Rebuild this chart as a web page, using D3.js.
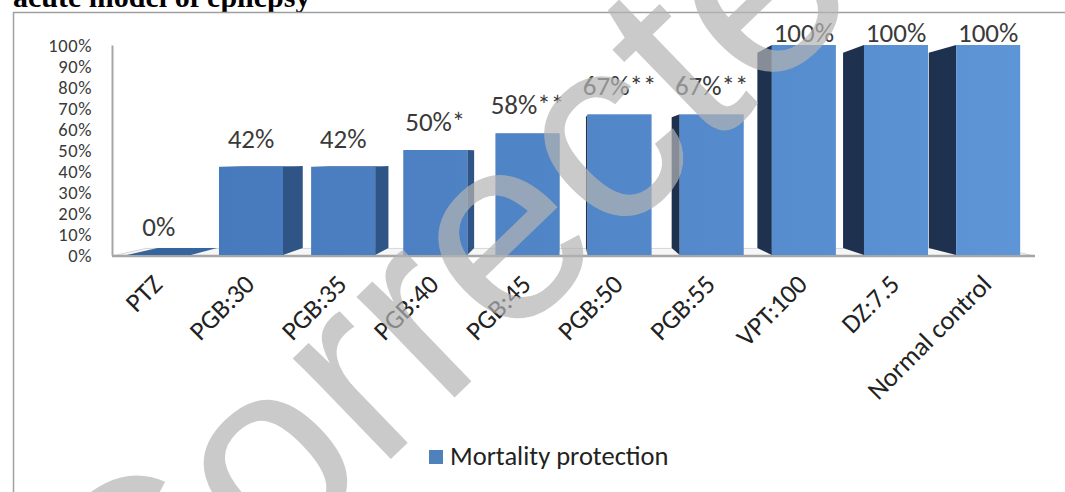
<!DOCTYPE html>
<html>
<head>
<meta charset="utf-8">
<script src="https://cdn.jsdelivr.net/npm/d3@7"></script>
<style>
  html, body { margin: 0; padding: 0; background: #fff; }
  svg { display: block; }
</style>
</head>
<body>
<svg id="chart" width="1065" height="492"></svg>
<script>
// ---- data ----
const categories = ["PTZ", "PGB:30", "PGB:35", "PGB:40", "PGB:45", "PGB:50", "PGB:55", "VPT:100", "DZ:7.5", "Normal control"];
const protection = [0, 42, 42, 50, 58, 67, 67, 100, 100, 100];   // % mortality protection
const significance = ["", "", "", "*", "**", "**", "**", "", "", ""];
const yTicks = [0, 10, 20, 30, 40, 50, 60, 70, 80, 90, 100];
const seriesName = "Mortality protection";
const titleText = "acute model of epilepsy";
const stampText = "Corrected";

// ---- setup ----
const svg = d3.select("#chart");
const uiFont = "Carlito, Calibri, Lato, sans-serif";

const x = d3.scaleBand().domain(categories).range([113, 1034]).paddingInner(0.305).paddingOuter(0.15);
const y = d3.scaleLinear().domain([0, 100]).range([255, 45]);
const pct = d => d + "%";

// simple one-point perspective for the 3-D columns
const vp = [565, 155];
const depth = 0.93;
const proj = (px, py, s) => [vp[0] + (px - vp[0]) * s, vp[1] + (py - vp[1]) * s];

const defs = svg.append("defs");
const grad = defs.append("linearGradient").attr("id", "frontFill")
  .attr("gradientUnits", "userSpaceOnUse").attr("x1", 200).attr("x2", 1020).attr("y1", 0).attr("y2", 0);
grad.append("stop").attr("offset", 0).attr("stop-color", "#4679bb");
grad.append("stop").attr("offset", 1).attr("stop-color", "#5d95d6");

// figure title (clipped by the top edge)
svg.append("text").attr("x", 13).attr("y", 7)
  .attr("font-family", "Liberation Serif, Times New Roman, serif")
  .attr("font-weight", "bold").attr("font-size", 30).attr("fill", "#000")
  .text(titleText);

// chart frame
svg.append("rect").attr("x", 13.5).attr("y", 12.5).attr("width", 1200).attr("height", 600)
  .attr("fill", "none").attr("stroke", "#a0a0a0").attr("stroke-width", 1.5);

// floor
const fy = y(0) + 1;
const floorPts = [[112, fy], [1035, fy], proj(1035, fy, 0.925), proj(112, fy, 0.925)];
svg.append("polygon").attr("points", floorPts.map(p => p.join(",")).join(" "))
  .attr("fill", "#f6f6f6").attr("stroke", "#d6d6d6").attr("stroke-width", 1);
svg.append("line").attr("x1", 112).attr("x2", 1035).attr("y1", fy).attr("y2", fy)
  .attr("stroke", "#a6a6a6").attr("stroke-width", 2.5);

// y axis
const yAxis = d3.axisLeft(y).tickValues(yTicks).tickFormat(pct).tickSize(0).tickPadding(20);
const ga = svg.append("g").attr("transform", "translate(112,0)").call(yAxis);
ga.select(".domain").attr("stroke", "#a6a6a6").attr("stroke-width", 2);
ga.selectAll(".tick text")
  .attr("font-family", uiFont).attr("font-size", 18.5).attr("letter-spacing", 0.6)
  .attr("fill", "#3a3a3a").attr("dy", "0.37em");

// columns
const rows = categories.map((c, i) => ({ c, v: protection[i], star: significance[i] }));
const bw = x.bandwidth();
const poly = pts => pts.map(p => p.join(",")).join(" ");
const bars = svg.append("g");
rows.forEach(d => {
  const x0 = x(d.c), x1 = x0 + bw, yt = y(d.v), yb = y(0);
  const g = bars.append("g");
  if (x1 < vp[0]) {
    g.append("polygon").attr("fill", "#2e5586")
      .attr("points", poly([[x1, yt], [x1, yb], proj(x1, yb, depth), proj(x1, yt, depth)]));
  }
  if (x0 > vp[0]) {
    g.append("polygon").attr("fill", "#1e3250")
      .attr("points", poly([[x0, yt], [x0, yb], proj(x0, yb, depth), proj(x0, yt, depth)]));
  }
  if (yt > vp[1]) {
    g.append("polygon").attr("fill", "#36649d")
      .attr("points", poly([[x0, yt], [x1, yt], proj(x1, yt, depth), proj(x0, yt, depth)]));
  }
  g.append("rect").attr("x", x0).attr("y", yt).attr("width", bw).attr("height", yb - yt)
    .attr("fill", "url(#frontFill)");
});

// value labels
svg.append("g").selectAll("text").data(rows).join("text")
  .attr("x", d => x(d.c) + bw / 2)
  .attr("y", d => Math.max(y(d.v) - 19, 42))
  .attr("text-anchor", "middle")
  .attr("font-family", uiFont).attr("font-size", 27).attr("fill", "#3a3a3a")
  .text(d => pct(d.v) + d.star);

// category labels
svg.append("g").selectAll("text").data(categories).join("text")
  .attr("transform", d => `translate(${x(d) + bw / 2 + 5},286) rotate(-45)`)
  .attr("text-anchor", "end")
  .attr("font-family", uiFont).attr("font-size", 26.5).attr("fill", "#222")
  .text(d => d);

// legend
svg.append("rect").attr("x", 429).attr("y", 450).attr("width", 14).attr("height", 14).attr("fill", "#4f81bd");
svg.append("text").attr("x", 450).attr("y", 465)
  .attr("font-family", uiFont).attr("font-size", 26.5).attr("fill", "#222")
  .text(seriesName);

// diagonal stamp over the figure
svg.append("text").attr("transform", "translate(133,708) rotate(-44)")
  .attr("font-family", "Liberation Sans, Arial, sans-serif").attr("font-size", 266)
  .attr("fill", "#b4b4b4").attr("opacity", 0.7)
  .text(stampText);
</script>
</body>
</html>
